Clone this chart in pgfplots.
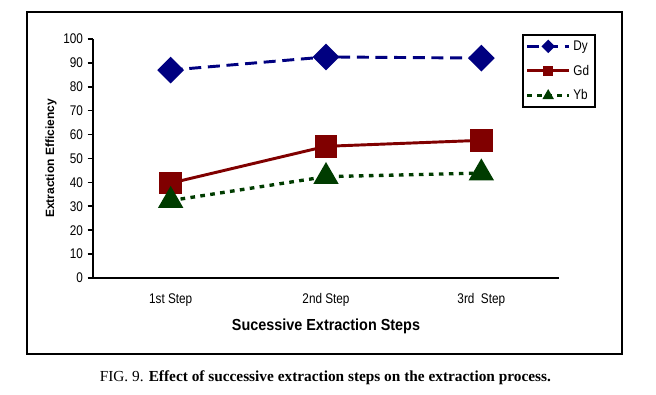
\documentclass[border=0pt]{standalone}
\usepackage{fontspec}
\setmainfont{Liberation Sans}
\newfontfamily\narrowsans[FakeStretch=0.84]{Liberation Sans}
\newfontfamily\labelsans[FakeStretch=0.9]{Liberation Sans}
\newfontfamily\capfont{Liberation Serif}
\usepackage{pgfplots}
\pgfplotsset{compat=1.18}
\definecolor{dyc}{RGB}{0,0,128}
\definecolor{gdc}{RGB}{128,0,0}
\definecolor{ybc}{RGB}{0,60,0}
\begin{document}
\begin{tikzpicture}[x=1pt,y=1pt]
\useasboundingbox (0,0) rectangle (492,296.25);
\draw[line width=1.5pt] (20.25,30.75) rectangle (466.5,287.25);
\begin{axis}[at={(69.75pt,87.75pt)}, anchor=south west, scale only axis,
  width=349.5pt, height=179.25pt,
  xmin=0, xmax=3, ymin=0, ymax=100,
  axis x line=bottom, axis y line=left,
  axis line style={-, line width=1.5pt},
  tick align=outside, major tick length=4pt,
  tick style={black, line width=1.2pt},
  xtick={0.5,1.5,2.5}, xticklabels={1st Step,2nd Step,3rd\ \ Step},
  x tick style={draw=none},
  extra x ticks={0,1,2,3}, extra x tick labels={},
  extra x tick style={tick style={draw=black, line width=1.2pt}},
  ytick={0,10,...,100},
  /pgf/number format/assume math mode=true,
  ticklabel style={font=\narrowsans\fontsize{10.5}{12}\selectfont},
  xticklabel style={yshift=-4pt},
  xlabel={Sucessive Extraction Steps},
  xlabel style={font=\labelsans\fontsize{12}{14}\selectfont\bfseries, at={(rel axis cs:0.5,0)}, anchor=center, yshift=-36pt},
  ylabel={Extraction Efficiency},
  ylabel style={font=\fontsize{9}{11}\selectfont\bfseries, at={(rel axis cs:-0.09,0.5)}, anchor=center},
  legend style={at={(rel axis cs:0.92,1.021)}, anchor=north west, draw=black, line width=1.5pt,
    font=\narrowsans\fontsize{10.5}{12}\selectfont, row sep=5.5pt, inner sep=2.2pt},
  legend cell align=left,
  legend image code/.code={\draw[mark repeat=2,mark phase=2] plot coordinates {(0cm,0cm)(0.55cm,0cm)(1.1cm,0cm)};},
  legend image post style={mark size=2.5pt},
]
\addplot[color=dyc, line width=2.2pt, dash pattern=on 9pt off 5pt, mark=square*, mark size=6pt, mark options={solid, rotate=45}]
  coordinates {(0.5,87) (1.5,92.5) (2.5,92)};
\addlegendentry{Dy}
\addplot[color=gdc, line width=2.2pt, mark=square*, mark size=7.3pt, mark options={solid}]
  coordinates {(0.5,39.7) (1.5,55.1) (2.5,57.6)};
\addlegendentry{Gd}
\addplot[color=ybc, line width=2.5pt, dash pattern=on 3.5pt off 4pt, mark=triangle*, mark size=8.5pt, mark options={solid}]
  coordinates {(0.5,32.4) (1.5,42.4) (2.5,43.9)};
\addlegendentry{Yb}
\end{axis}
\node[font=\capfont\fontsize{11.5}{13}\selectfont] at (244,12.75) {FIG. 9. \textbf{Effect of successive extraction steps on the extraction process.}};
\end{tikzpicture}
\end{document}
